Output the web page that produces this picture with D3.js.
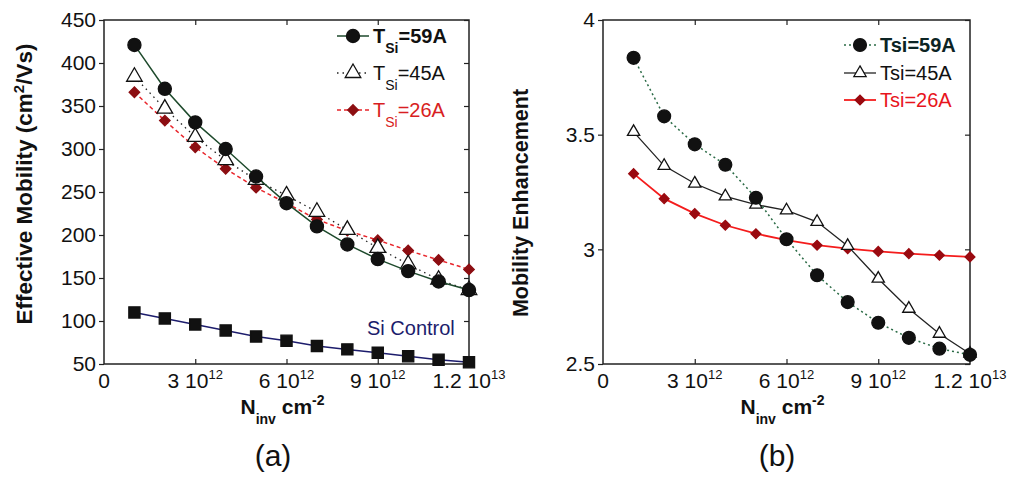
<!DOCTYPE html>
<html>
<head>
<meta charset="utf-8">
<script src="https://cdn.jsdelivr.net/npm/d3@7"></script>
<style>
  body { margin: 0; background: #fff; }
  svg { display: block; font-family: "Liberation Sans", Arial, sans-serif; }
</style>
</head>
<body>
<div id="chart"></div>
<script>
/* data */
const nInv = [1e12, 2e12, 3e12, 4e12, 5e12, 6e12, 7e12, 8e12, 9e12, 10e12, 11e12, 12e12];

// (a) effective mobility, cm2/Vs
const mob59 = [421, 370, 331, 300, 268, 237, 210, 189, 172, 158, 146, 136];
const mob45 = [384, 347, 314, 287, 264, 246, 227, 206, 185, 166, 148, 136];
const mob26 = [366, 333, 302, 277, 255, 237, 218, 205, 194, 182, 171, 160];
const mobSi = [110, 103, 96, 89, 82, 77, 71, 67, 63, 59, 55, 52];

// (b) mobility enhancement
const enh59 = [3.835, 3.58, 3.458, 3.369, 3.225, 3.044, 2.887, 2.77, 2.68, 2.614, 2.567, 2.54];
const enh45 = [3.512, 3.364, 3.287, 3.231, 3.195, 3.17, 3.12, 3.015, 2.872, 2.741, 2.632, 2.545];
const enh26 = [3.33, 3.221, 3.156, 3.105, 3.068, 3.04, 3.018, 3.003, 2.991, 2.981, 2.974, 2.967];

// tick labels
const xTicks = [
  { v: 0, base: "0", exp: "" },
  { v: 3e12, base: "3 10", exp: "12" },
  { v: 6e12, base: "6 10", exp: "12" },
  { v: 9e12, base: "9 10", exp: "12" },
  { v: 12e12, base: "1.2 10", exp: "13" }
];
const mobTicks = [50, 100, 150, 200, 250, 300, 350, 400, 450];
const enhTicks = [2.5, 3, 3.5, 4];

/////////////////////////////////////////////////////////////////////////////
const W = 1011, H = 483;
const svg = d3.select("#chart").append("svg")
  .attr("width", W).attr("height", H);
svg.append("rect").attr("width", W).attr("height", H).attr("fill", "#fff");

const plotTop = 20, plotBottom = 364;

// draws the frame, ticks and tick labels of one panel
function panel(x0, x1, yDomain, yTicks, yFmt) {
  const x = d3.scaleLinear().domain([0, 12e12]).range([x0, x1]);
  const y = d3.scaleLinear().domain(yDomain).range([plotBottom, plotTop]);
  const g = svg.append("g");

  const inner = [3e12, 6e12, 9e12];
  g.append("g").attr("transform", `translate(0,${plotBottom})`)
    .call(d3.axisBottom(x).tickValues(inner).tickSize(-5).tickFormat(""));
  g.append("g").attr("transform", `translate(0,${plotTop})`)
    .call(d3.axisTop(x).tickValues(inner).tickSize(-5).tickFormat(""));
  g.append("g").attr("transform", `translate(${x0},0)`)
    .call(d3.axisLeft(y).tickValues(yTicks).tickSize(5).tickPadding(3).tickFormat(yFmt));
  g.append("g").attr("transform", `translate(${x1},0)`)
    .call(d3.axisRight(y).tickValues(yTicks).tickSize(-5).tickFormat(""));
  g.selectAll(".domain").remove();
  g.selectAll(".tick line").attr("stroke", "#222").attr("stroke-width", 1.2);
  g.selectAll(".tick text").attr("fill", "#111")
    .style("font-size", "21px").style("font-family", "Liberation Sans, Arial, sans-serif");

  g.append("rect")
    .attr("x", x0).attr("y", plotTop).attr("width", x1 - x0).attr("height", plotBottom - plotTop)
    .attr("fill", "none").attr("stroke", "#222").attr("stroke-width", 1.5);

  const xl = g.selectAll(".xl").data(xTicks).join("text")
    .attr("x", d => x(d.v)).attr("y", 388)
    .attr("text-anchor", "middle").attr("fill", "#111")
    .style("font-size", "21px");
  xl.append("tspan").text(d => d.base);
  xl.append("tspan").attr("dy", -9).style("font-size", "13px").text(d => d.exp);

  // x title
  const t = g.append("text").attr("x", (x0 + x1) / 2 - 4).attr("y", 414)
    .attr("text-anchor", "middle").attr("fill", "#111")
    .style("font-size", "21px").style("font-weight", "bold");
  t.append("tspan").text("N");
  t.append("tspan").attr("dy", 10).style("font-size", "14px").text("inv");
  t.append("tspan").attr("dy", -10).text(" cm");
  t.append("tspan").attr("dy", -9).style("font-size", "14px").text("-2");

  return { x, y };
}

function series(p, vals, opt) {
  const line = d3.line().x((d, i) => p.x(nInv[i])).y(d => p.y(d));
  svg.append("path").datum(vals)
    .attr("d", line).attr("fill", "none")
    .attr("stroke", opt.line).attr("stroke-width", opt.lw || 1.5)
    .attr("stroke-dasharray", opt.dash || null);
  svg.append("g").selectAll("path").data(vals).join("path")
    .attr("transform", (d, i) => `translate(${p.x(nInv[i])},${p.y(d)}) rotate(${opt.rot || 0})`)
    .attr("d", d3.symbol().type(opt.sym).size(opt.size))
    .attr("fill", opt.fill).attr("stroke", opt.stroke).attr("stroke-width", 1.3);
}

function legendItem(cx, cy, opt, parts, color, weight) {
  svg.append("line").attr("x1", cx - 16).attr("x2", cx + 16).attr("y1", cy).attr("y2", cy)
    .attr("stroke", opt.line).attr("stroke-width", opt.lw || 1.5)
    .attr("stroke-dasharray", opt.dash || null);
  svg.append("path")
    .attr("transform", `translate(${cx},${cy}) rotate(${opt.rot || 0})`)
    .attr("d", d3.symbol().type(opt.sym).size(opt.size))
    .attr("fill", opt.fill).attr("stroke", opt.stroke).attr("stroke-width", 1.3);
  const t = svg.append("text").attr("x", cx + 20).attr("y", cy + 7)
    .attr("fill", color).style("font-size", "20px").style("font-weight", weight || "normal");
  parts.forEach(p => {
    const s = t.append("tspan").text(p.t);
    if (p.sub) s.attr("dy", 10).style("font-size", "14px");
    if (p.back) s.attr("dy", -10);
  });
}

/* (a) */
const pa = panel(104, 469, [50, 450], mobTicks, d3.format("d"));

const a59 = { line: "#1e4a2c", sym: d3.symbolCircle, size: 135, fill: "#111", stroke: "#111" };
const a45 = { line: "#222", lw: 1.3, dash: "1.5,4", sym: d3.symbolTriangle, size: 105, fill: "#fff", stroke: "#111" };
const a26 = { line: "#e8242a", dash: "4,3", sym: d3.symbolSquare, size: 55, rot: 45, fill: "#8c0e12", stroke: "#8c0e12" };
const aSi = { line: "#1c1c6c", sym: d3.symbolSquare, size: 125, fill: "#111", stroke: "#111" };

series(pa, mob26, a26);
series(pa, mob45, a45);
series(pa, mob59, a59);
series(pa, mobSi, aSi);

legendItem(353, 36, a59, [{ t: "T" }, { t: "Si", sub: true }, { t: "=59A", back: true }], "#111", "bold");
legendItem(353, 73, a45, [{ t: "T" }, { t: "Si", sub: true }, { t: "=45A", back: true }], "#111");
legendItem(353, 110, a26, [{ t: "T" }, { t: "Si", sub: true }, { t: "=26A", back: true }], "#d81e22");

svg.append("text").attr("x", 367).attr("y", 335)
  .attr("fill", "#1c1c6c").style("font-size", "20px").text("Si Control");

const ya = svg.append("text").attr("transform", "translate(32,184) rotate(-90)")
  .attr("text-anchor", "middle").attr("fill", "#111")
  .style("font-size", "22.5px").style("font-weight", "bold");
ya.append("tspan").text("Effective Mobility (cm");
ya.append("tspan").attr("dy", -8).style("font-size", "15px").text("2");
ya.append("tspan").attr("dy", 8).text("/Vs)");

svg.append("text").attr("x", 273).attr("y", 466).attr("text-anchor", "middle")
  .attr("fill", "#111").style("font-size", "30px").text("(a)");

/* (b) */
const pb = panel(603, 970, [2.5, 4], enhTicks, d3.format(""));

const b59 = { line: "#2b6b46", dash: "2,3", sym: d3.symbolCircle, size: 130, fill: "#111", stroke: "#111" };
const b45 = { line: "#222", lw: 1.3, sym: d3.symbolTriangle, size: 65, fill: "#fff", stroke: "#111" };
const b26 = { line: "#f41c1c", lw: 1.8, sym: d3.symbolSquare, size: 48, rot: 45, fill: "#9a0a10", stroke: "#9a0a10" };

series(pb, enh26, b26);
series(pb, enh45, b45);
series(pb, enh59, b59);

legendItem(860, 45, b59, [{ t: "Tsi=59A" }], "#0c2424", "bold");
legendItem(860, 73, b45, [{ t: "Tsi=45A" }], "#111");
legendItem(860, 100, b26, [{ t: "Tsi=26A" }], "#e8141c");

svg.append("text").attr("transform", "translate(528,203) rotate(-90)")
  .attr("text-anchor", "middle").attr("fill", "#111")
  .style("font-size", "21.5px").style("font-weight", "bold").text("Mobility Enhancement");

svg.append("text").attr("x", 777).attr("y", 466).attr("text-anchor", "middle")
  .attr("fill", "#111").style("font-size", "30px").text("(b)");
</script>
</body>
</html>
